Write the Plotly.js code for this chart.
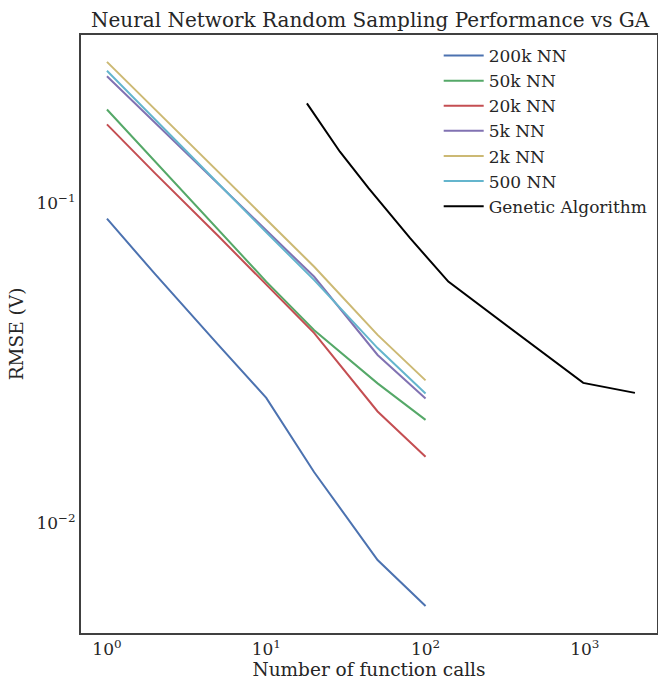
<!DOCTYPE html>
<html>
<head>
<meta charset="utf-8">
<script src="https://cdn.plot.ly/plotly-3.0.1.min.js"></script>
<style>html,body{margin:0;padding:0;background:#fff;}#chart{width:658px;height:680px;}</style>
</head>
<body>
<div id="chart"></div>
<script>
// Data
const nnCalls = [1, 2, 5, 10, 20, 50, 100];
const nn200k = [0.0893, 0.0600, 0.0360, 0.0246, 0.0144, 0.00766, 0.0055];
const nn50k  = [0.196, 0.135, 0.0826, 0.0568, 0.0400, 0.0273, 0.0210];
const nn20k  = [0.176, 0.124, 0.0788, 0.0557, 0.0392, 0.0223, 0.0161];
const nn5k   = [0.249, 0.178, 0.1147, 0.0820, 0.0588, 0.0335, 0.0245];
const nn2k   = [0.276, 0.196, 0.1252, 0.0890, 0.0632, 0.0387, 0.0279];
const nn500  = [0.259, 0.182, 0.1150, 0.0810, 0.0574, 0.0352, 0.0254];
const gaCalls = [18, 29, 44, 80, 139, 977, 2063];
const gaRmse  = [0.2047, 0.1446, 0.111, 0.0776, 0.0568, 0.0274, 0.0255];

const seriesNames = ['200k NN', '50k NN', '20k NN', '5k NN', '2k NN', '500 NN', 'Genetic Algorithm'];
const seriesColors = ['#4C72B0', '#55A868', '#C44E52', '#8172B2', '#CCB974', '#64B5CD', '#000000'];
const seriesX = [nnCalls, nnCalls, nnCalls, nnCalls, nnCalls, nnCalls, gaCalls];
const seriesY = [nn200k, nn50k, nn20k, nn5k, nn2k, nn500, gaRmse];

const xTickVals = [1, 10, 100, 1000];
const xTickText = ['10<sup>0</sup>', '10<sup>1</sup>', '10<sup>2</sup>', '10<sup>3</sup>'];
const yTickVals = [0.01, 0.1];
const yTickText = ['10<sup>\u22122</sup>', '10<sup>\u22121</sup>'];

const serif = 'DejaVu Serif, serif';

const traces = seriesNames.map((name, i) => ({
  x: seriesX[i], y: seriesY[i], name: name, type: 'scatter', mode: 'lines',
  line: {color: seriesColors[i], width: 2}
}));

const layout = {
  width: 658, height: 680,
  margin: {l: 81, r: 1, t: 35, b: 47},
  paper_bgcolor: '#fff', plot_bgcolor: '#fff',
  font: {family: serif, color: '#262626', size: 15},
  title: {text: 'Neural Network Random Sampling Performance vs GA', font: {family: serif, size: 20, color: '#262626'},
          x: 0.5625, xanchor: 'center', y: 0.97, yanchor: 'middle'},
  xaxis: {type: 'log', range: [-0.163, 3.453], tickvals: xTickVals, ticktext: xTickText,
          showgrid: false, zeroline: false, showline: true, mirror: true, linecolor: '#404040', linewidth: 2,
          ticks: '', tickfont: {family: serif, size: 17, color: '#262626'},
          title: {text: 'Number of function calls', font: {family: serif, size: 18.5, color: '#262626'}, standoff: 4}},
  yaxis: {type: 'log', range: [-2.344, -0.475], tickvals: yTickVals, ticktext: yTickText,
          showgrid: false, zeroline: false, showline: true, mirror: true, linecolor: '#404040', linewidth: 2,
          ticks: '', tickfont: {family: serif, size: 17, color: '#262626'},
          title: {text: 'RMSE (V)', font: {family: serif, size: 18.5, color: '#262626'}, standoff: 8}},
  legend: {x: 0.621, y: 0.995, xanchor: 'left', yanchor: 'top', bgcolor: 'rgba(0,0,0,0)', borderwidth: 0,
           itemwidth: 40,
           font: {family: serif, size: 17, color: '#262626'}},
  showlegend: true
};

Plotly.newPlot('chart', traces, layout, {displayModeBar: false, staticPlot: true});
</script>
</body>
</html>
